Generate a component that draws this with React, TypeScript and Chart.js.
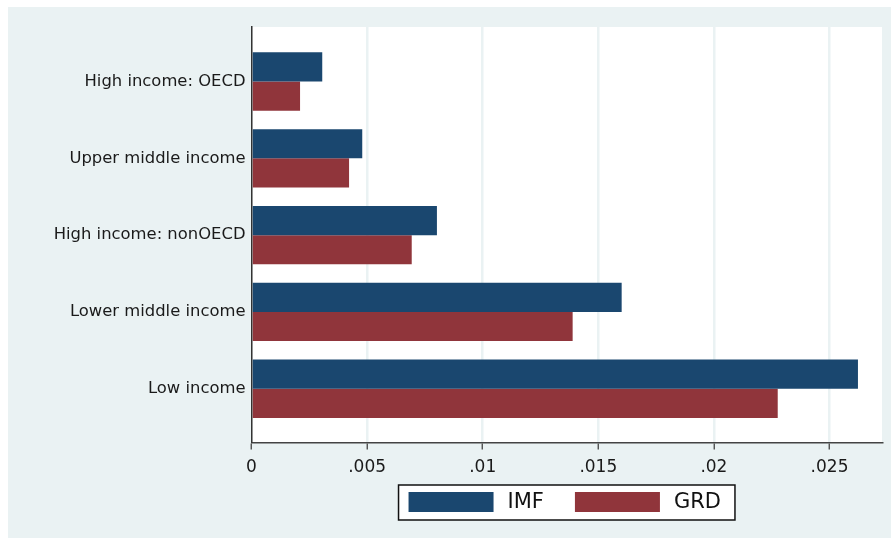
import React, { useEffect, useRef } from "react";
import { Chart, registerables } from "chart.js";

Chart.register(...registerables);

const categories = [
  "High income: OECD",
  "Upper middle income",
  "High income: nonOECD",
  "Lower middle income",
  "Low income",
];
const imfValues = [0.00306, 0.00479, 0.00802, 0.01601, 0.02623];
const grdValues = [0.0021, 0.00422, 0.00693, 0.01389, 0.02276];
const xTickValues = [0, 0.005, 0.01, 0.015, 0.02, 0.025];
const xTickLabels = ["0", ".005", ".01", ".015", ".02", ".025"];
const seriesNames = ["IMF", "GRD"];
const seriesColors = ["#1A476F", "#90353B"];

const BG = "#EAF2F3";
const FONT = "'DejaVu Sans', sans-serif";

const backgroundPlugin = {
  id: "stataBackground",
  beforeDraw(chart: any) {
    const { ctx, chartArea, width, height } = chart;
    ctx.save();
    ctx.fillStyle = BG;
    ctx.fillRect(0, 0, width, height);
    ctx.fillStyle = "#ffffff";
    ctx.fillRect(
      chartArea.left,
      chartArea.top,
      chartArea.right - chartArea.left,
      chartArea.bottom - chartArea.top
    );
    ctx.restore();
  },
  afterDraw(chart: any) {
    const { ctx, chartArea } = chart;
    const fontSize = 21;
    ctx.save();
    ctx.font = `${fontSize}px ${FONT}`;
    const swatchW = 85;
    const swatchH = 20;
    const padL = 10;
    const padR = 14;
    const gapText = 14;
    const gapItem = 31;
    const textWidths = seriesNames.map((n) => ctx.measureText(n).width);
    let total = padL + padR;
    seriesNames.forEach((_, i) => {
      total += swatchW + gapText + textWidths[i];
      if (i < seriesNames.length - 1) total += gapItem;
    });
    const cx = (chartArea.left + chartArea.right) / 2;
    const boxLeft = cx - total / 2;
    const boxTop = chartArea.bottom + 42.5;
    const boxH = 35;
    ctx.fillStyle = "#ffffff";
    ctx.fillRect(boxLeft, boxTop, total, boxH);
    ctx.strokeStyle = "#111111";
    ctx.lineWidth = 1.5;
    ctx.strokeRect(boxLeft, boxTop, total, boxH);
    let x = boxLeft + padL;
    const sy = boxTop + 7;
    seriesNames.forEach((name, i) => {
      ctx.fillStyle = seriesColors[i];
      ctx.fillRect(x, sy, swatchW, swatchH);
      x += swatchW + gapText;
      ctx.fillStyle = "#111111";
      ctx.textBaseline = "middle";
      ctx.textAlign = "left";
      ctx.fillText(name, x, sy + swatchH / 2 + 1);
      x += textWidths[i] + gapItem;
    });
    ctx.restore();
  },
};

export default function App() {
  const canvasRef = useRef<HTMLCanvasElement | null>(null);

  useEffect(() => {
    if (!canvasRef.current) return;
    const chart = new Chart(canvasRef.current, {
      type: "bar",
      data: {
        datasets: seriesNames.map((name, s) => ({
          label: name,
          data: (s === 0 ? imfValues : grdValues).map((v, i) => ({ x: v, y: i })),
          backgroundColor: seriesColors[s],
          borderWidth: 0,
        })),
      },
      options: {
        indexAxis: "y",
        animation: false,
        responsive: true,
        maintainAspectRatio: false,
        layout: { padding: { top: 20, right: 9, bottom: 55.5, left: 0 } },
        datasets: {
          bar: { categoryPercentage: 0.76, barPercentage: 1 },
        },
        scales: {
          x: {
            type: "linear",
            min: 0,
            max: 0.02727,
            afterBuildTicks: (scale: any) => {
              scale.ticks = xTickValues.map((v) => ({ value: v }));
            },
            afterFit: (scale: any) => {
              scale.height = 40;
            },
            ticks: {
              callback: (value: any) => {
                const idx = xTickValues.findIndex((t) => Math.abs(t - value) < 1e-9);
                return idx >= 0 ? xTickLabels[idx] : "";
              },
              font: { family: FONT, size: 17 },
              color: "#1a1a1a",
              padding: 8,
              maxRotation: 0,
              autoSkip: false,
            },
            grid: {
              color: BG,
              lineWidth: 2.5,
              drawTicks: true,
              tickLength: 7,
              tickColor: "#444444",
              tickWidth: 1.3,
            },
            border: { display: true, color: "#444444", width: 1.5 },
          },
          y: {
            type: "linear",
            reverse: true,
            offset: false,
            min: -0.71,
            max: 4.7,
            afterBuildTicks: (scale: any) => {
              scale.ticks = categories.map((_, i) => ({ value: i }));
            },
            afterFit: (scale: any) => {
              scale.width = 243.5;
            },
            ticks: {
              callback: (value: any) => categories[Math.round(value)] ?? "",
              font: { family: FONT, size: 16.4 },
              color: "#1a1a1a",
              padding: 6,
              autoSkip: false,
            },
            grid: { display: false, drawTicks: false, offset: false },
            border: { display: true, color: "#333333", width: 1.5 },
          },
        },
        plugins: {
          legend: { display: false },
          tooltip: { enabled: false },
        },
      },
      plugins: [backgroundPlugin],
    } as any);
    return () => chart.destroy();
  }, []);

  return (
    <div
      style={{
        position: "absolute",
        left: 8,
        top: 7,
        width: 883,
        height: 531,
      }}
    >
      <canvas ref={canvasRef} />
    </div>
  );
}
